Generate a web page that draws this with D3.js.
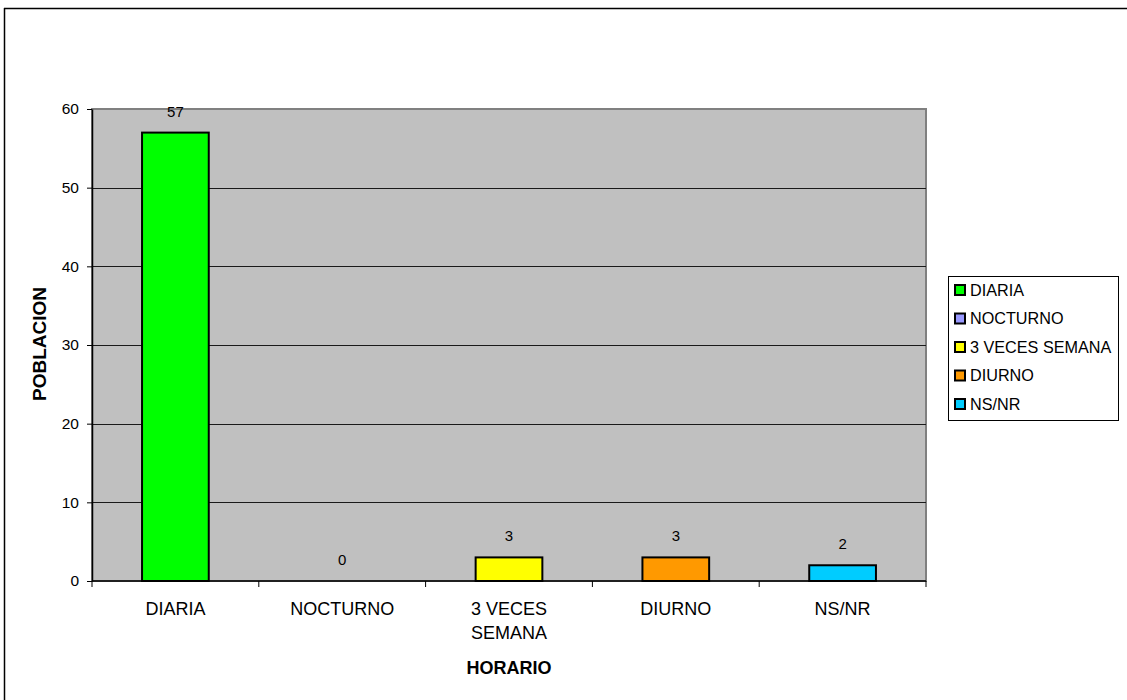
<!DOCTYPE html>
<html>
<head>
<meta charset="utf-8">
<script src="https://cdn.jsdelivr.net/npm/d3@7"></script>
<style>
  html, body { margin: 0; padding: 0; background: #fff; }
  svg { display: block; font-family: "Liberation Sans", Arial, sans-serif; }
</style>
</head>
<body>
<svg id="chart" width="1127" height="700"></svg>
<script>
// Categories, values and colours
const categories = ["DIARIA", "NOCTURNO", "3 VECES SEMANA", "DIURNO", "NS/NR"];
const axisLabels = [["DIARIA"], ["NOCTURNO"], ["3 VECES", "SEMANA"], ["DIURNO"], ["NS/NR"]];
const values = [57, 0, 3, 3, 2];
const colors = ["#00ff00", "#9999ff", "#ffff00", "#ff9900", "#00ccff"];
const yTicks = [0, 10, 20, 30, 40, 50, 60];

const svg = d3.select("#chart");

// Outer frame (top and left edges visible)
svg.append("line").attr("x1", 4).attr("x2", 1127).attr("y1", 8.5).attr("y2", 8.5)
  .attr("stroke", "#000").attr("stroke-width", 1.5);
svg.append("line").attr("x1", 4.5).attr("x2", 4.5).attr("y1", 8).attr("y2", 700)
  .attr("stroke", "#000").attr("stroke-width", 1.5);

const plot = { left: 92, right: 926, top: 109, bottom: 581 };

const x = d3.scaleBand().domain(categories).range([plot.left, plot.right]).paddingInner(0).paddingOuter(0);
const y = d3.scaleLinear().domain([0, 60]).range([plot.bottom, plot.top]);

// Plot background
svg.append("rect")
  .attr("x", plot.left).attr("y", plot.top)
  .attr("width", plot.right - plot.left).attr("height", plot.bottom - plot.top)
  .attr("fill", "#c0c0c0")
  .attr("stroke", "#808080").attr("stroke-width", 2);

// Gridlines
svg.append("g").selectAll("line").data(yTicks.filter(d => d > 0 && d < 60)).join("line")
  .attr("x1", plot.left).attr("x2", plot.right)
  .attr("y1", d => Math.round(y(d)) + 0.5).attr("y2", d => Math.round(y(d)) + 0.5)
  .attr("stroke", "#1a1a1a").attr("stroke-width", 1);

// Bars
const bw = x.bandwidth() * 0.4;
svg.append("g").selectAll("rect").data(values).join("rect")
  .attr("x", (d, i) => x(categories[i]) + (x.bandwidth() - bw) / 2)
  .attr("y", d => y(d))
  .attr("width", bw)
  .attr("height", d => y(0) - y(d))
  .attr("fill", (d, i) => colors[i])
  .attr("stroke", "#000").attr("stroke-width", d => d > 0 ? 2 : 0);

// Value labels
svg.append("g").selectAll("text").data(values).join("text")
  .attr("x", (d, i) => x(categories[i]) + x.bandwidth() / 2)
  .attr("y", d => y(d) - 16)
  .attr("text-anchor", "middle")
  .attr("font-size", 15)
  .attr("fill", "#000")
  .text(d => d);

// Y axis
const yAxis = d3.axisLeft(y).tickValues(yTicks).tickSize(5).tickPadding(8).tickSizeOuter(0);
const gy = svg.append("g").attr("transform", `translate(${plot.left},0)`).call(yAxis);
gy.select(".domain").attr("stroke", "#000").attr("stroke-width", 1.5);
gy.selectAll(".tick line").attr("stroke", "#000");
gy.selectAll(".tick text").attr("font-size", 15.5).attr("fill", "#000")
  .attr("font-family", "Liberation Sans, Arial, sans-serif");

// X axis baseline and boundary ticks
svg.append("line").attr("x1", plot.left).attr("x2", plot.right)
  .attr("y1", plot.bottom).attr("y2", plot.bottom)
  .attr("stroke", "#000").attr("stroke-width", 1.5);
const bounds = categories.map(c => x(c)).concat([plot.right]);
svg.append("g").selectAll("line").data(bounds).join("line")
  .attr("x1", d => d).attr("x2", d => d)
  .attr("y1", plot.bottom).attr("y2", plot.bottom + 6)
  .attr("stroke", "#000").attr("stroke-width", 1);

// Category labels
const cat = svg.append("g").selectAll("text").data(axisLabels).join("text")
  .attr("x", (d, i) => x(categories[i]) + x.bandwidth() / 2)
  .attr("y", 615)
  .attr("text-anchor", "middle")
  .attr("font-size", 18)
  .attr("fill", "#000");
cat.selectAll("tspan").data(d => d).join("tspan")
  .attr("x", function () { return d3.select(this.parentNode).attr("x"); })
  .attr("dy", (d, j) => j === 0 ? 0 : 24)
  .text(d => d);

// Axis titles
svg.append("text").attr("x", x(categories[2]) + x.bandwidth() / 2).attr("y", 674)
  .attr("text-anchor", "middle").attr("font-size", 18).attr("font-weight", "bold")
  .text("HORARIO");
svg.append("text").attr("transform", "translate(46,344) rotate(-90)")
  .attr("text-anchor", "middle").attr("font-size", 19).attr("font-weight", "bold")
  .text("POBLACION");

// Legend
const lg = svg.append("g");
lg.append("rect").attr("x", 948.5).attr("y", 276.5).attr("width", 170).attr("height", 144)
  .attr("fill", "#fff").attr("stroke", "#000").attr("stroke-width", 1);
const rows = lg.selectAll("g.item").data(categories).join("g").attr("class", "item")
  .attr("transform", (d, i) => `translate(0,${290 + i * 28.5})`);
rows.append("rect").attr("x", 955).attr("y", -5).attr("width", 10).attr("height", 10)
  .attr("fill", (d, i) => colors[i]).attr("stroke", "#000").attr("stroke-width", 2);
rows.append("text").attr("x", 970).attr("y", 0).attr("dy", "0.35em")
  .attr("font-size", 16.2).attr("fill", "#000").text(d => d);
</script>
</body>
</html>
